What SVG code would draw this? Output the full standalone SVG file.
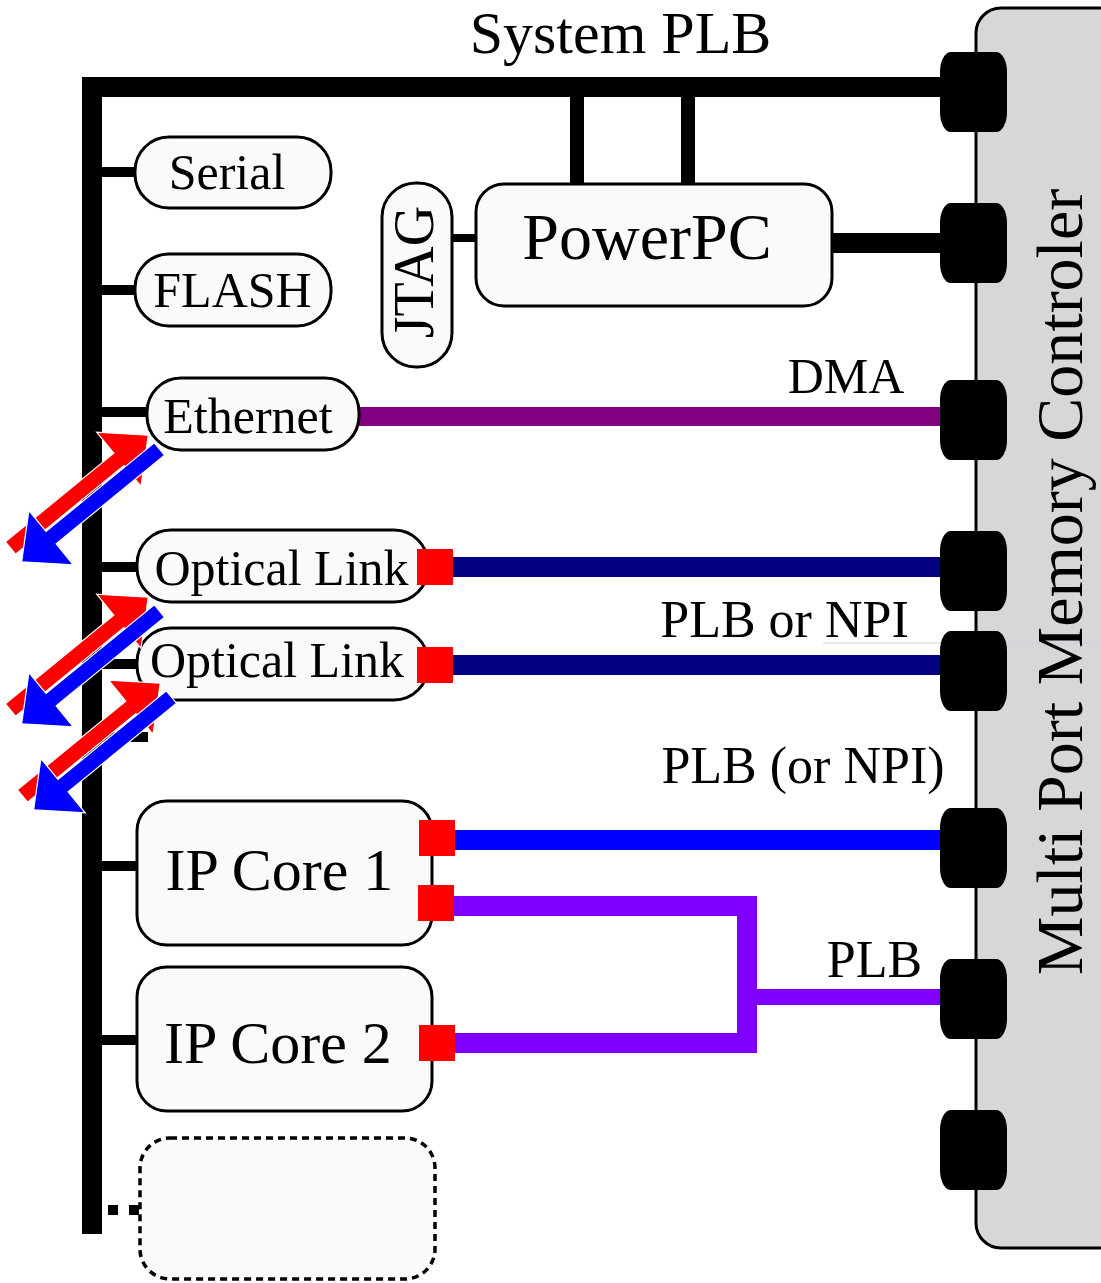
<svg xmlns="http://www.w3.org/2000/svg" width="1101" height="1283" viewBox="0 0 1101 1283">
<style>
text{font-family:"Liberation Serif","Times New Roman",serif;fill:#000}
.box{fill:#fafafa;stroke:#000;stroke-width:3}
.port{fill:#000}
.stub{stroke:#000;stroke-width:10;fill:none}
.sq{fill:#ff0000}
.red{fill:#ff0000;stroke:#fff;stroke-width:1.2}
.blue{fill:#0000ff;stroke:#fff;stroke-width:1.2}
</style>
<defs>
<path id="arr" d="M0,-8 H140 V-35 L178,0 L140,35 V8 H0 Z"/>
<rect id="port" x="940" y="0" width="67" height="80" rx="11" ry="20"/>
</defs>
<rect width="1101" height="1283" fill="#fff"/>

<g id="mpmc">
<rect x="976" y="8" width="170" height="1240" rx="25" ry="25" fill="#d7d7d7" stroke="#000" stroke-width="3"/>
<line x1="823" y1="643" x2="1101" y2="643" stroke="#cfd0e6" stroke-width="1"/>
<text transform="translate(1082,582) rotate(-90)" font-size="66" text-anchor="middle">Multi Port Memory Controler</text>
</g>

<g id="connectors" fill="none">
<path d="M92,1234 V87 H945" stroke="#000" stroke-width="20" stroke-linejoin="miter"/>
<line x1="577" y1="96" x2="577" y2="186" stroke="#000" stroke-width="14"/>
<line x1="688" y1="96" x2="688" y2="186" stroke="#000" stroke-width="14"/>
<line x1="830" y1="243" x2="945" y2="243" stroke="#000" stroke-width="20"/>
<line x1="450" y1="238" x2="478" y2="238" stroke="#000" stroke-width="8"/>
<line class="stub" x1="100" y1="172" x2="137" y2="172"/>
<line class="stub" x1="100" y1="290" x2="137" y2="290"/>
<line class="stub" x1="100" y1="412" x2="148" y2="412"/>
<line class="stub" x1="100" y1="567" x2="139" y2="567"/>
<line class="stub" x1="100" y1="664" x2="139" y2="664"/>
<line class="stub" x1="100" y1="737" x2="148" y2="737"/>
<line class="stub" x1="100" y1="866" x2="139" y2="866" stroke-width="11"/>
<line class="stub" x1="100" y1="1040" x2="139" y2="1040" stroke-width="11"/>
<rect x="108" y="1205" width="10" height="10" fill="#000"/>
<rect x="129" y="1205" width="10" height="10" fill="#000"/>
<line x1="356" y1="416.5" x2="945" y2="416.5" stroke="#800080" stroke-width="19"/>
<line x1="450" y1="567" x2="945" y2="567" stroke="#000080" stroke-width="20"/>
<line x1="450" y1="665" x2="945" y2="665" stroke="#000080" stroke-width="20"/>
<line x1="452" y1="840" x2="945" y2="840" stroke="#0000ff" stroke-width="20"/>
<polyline points="452,906 747,906 747,1043 452,1043" stroke="#8000ff" stroke-width="20" stroke-linejoin="miter"/>
<line x1="755" y1="997" x2="945" y2="997" stroke="#8000ff" stroke-width="16"/>
</g>

<g id="ports">
<use href="#port" class="port" y="52"/>
<use href="#port" class="port" y="203"/>
<use href="#port" class="port" y="380"/>
<use href="#port" class="port" y="531"/>
<use href="#port" class="port" y="631"/>
<use href="#port" class="port" y="808"/>
<use href="#port" class="port" y="959"/>
<use href="#port" class="port" y="1110"/>
</g>

<g id="labels">
<text x="620.5" y="53" font-size="60" text-anchor="middle">System PLB</text>
<text x="846" y="393" font-size="50" text-anchor="middle">DMA</text>
<text x="784.5" y="637" font-size="52" text-anchor="middle">PLB or NPI</text>
<text x="803" y="783" font-size="52" text-anchor="middle">PLB (or NPI)</text>
<text x="874.5" y="977" font-size="52" text-anchor="middle">PLB</text>
</g>

<g id="serial">
<rect class="box" x="135" y="137" width="196" height="71" rx="34" ry="34"/>
<text x="227" y="189" font-size="50" text-anchor="middle">Serial</text>
</g>
<g id="flash">
<rect class="box" x="135" y="254" width="196" height="72" rx="34" ry="34"/>
<text x="232.5" y="307" font-size="50" text-anchor="middle">FLASH</text>
</g>
<g id="jtag">
<rect class="box" x="382" y="183" width="70" height="184" rx="34" ry="34"/>
<text transform="translate(433,272) rotate(-90)" font-size="56" text-anchor="middle">JTAG</text>
</g>
<g id="powerpc">
<rect class="box" x="476" y="184" width="356" height="122" rx="28" ry="28"/>
<text x="647" y="259" font-size="66" text-anchor="middle">PowerPC</text>
</g>
<g id="ethernet">
<rect class="box" x="147" y="378" width="212" height="72" rx="34" ry="34"/>
<text x="248" y="433" font-size="50" text-anchor="middle">Ethernet</text>
</g>
<g id="optical1">
<rect class="box" x="137" y="530" width="291" height="72" rx="34" ry="34"/>
<text x="281.5" y="585" font-size="50" text-anchor="middle">Optical Link</text>
<rect class="sq" x="417" y="549" width="36" height="36"/>
</g>
<g id="optical2">
<rect class="box" x="137" y="628" width="291" height="72" rx="34" ry="34"/>
<text x="277" y="677" font-size="50" text-anchor="middle">Optical Link</text>
<rect class="sq" x="417" y="647" width="36" height="36"/>
</g>
<g id="ipcore1">
<rect class="box" x="137" y="801" width="295" height="144" rx="30" ry="30"/>
<text x="279.5" y="890" font-size="60" text-anchor="middle">IP Core 1</text>
<rect class="sq" x="419" y="820" width="36" height="36"/>
<rect class="sq" x="418" y="885" width="36" height="36"/>
</g>
<g id="ipcore2">
<rect class="box" x="137" y="967" width="295" height="144" rx="30" ry="30"/>
<text x="278" y="1063" font-size="60" text-anchor="middle">IP Core 2</text>
<rect class="sq" x="419" y="1025" width="36" height="36"/>
</g>
<g id="placeholder">
<rect x="140" y="1138" width="295" height="141" rx="30" ry="30" fill="#fafafa" stroke="#000" stroke-width="3.5" stroke-dasharray="7 5"/>
</g>

<g id="arrows">
<g id="arrows1">
<use href="#arr" class="red" transform="translate(10.5,548) rotate(-39.3)"/>
<use href="#arr" class="blue" transform="translate(159.4,449) rotate(140.7)"/>
</g>
<g id="arrows2" transform="translate(0,162)">
<use href="#arr" class="red" transform="translate(10.5,548) rotate(-39.3)"/>
<use href="#arr" class="blue" transform="translate(159.4,449) rotate(140.7)"/>
</g>
<g id="arrows3" transform="translate(12,248)">
<use href="#arr" class="red" transform="translate(10.5,548) rotate(-39.3)"/>
<use href="#arr" class="blue" transform="translate(159.4,449) rotate(140.7)"/>
</g>
</g>
</svg>
